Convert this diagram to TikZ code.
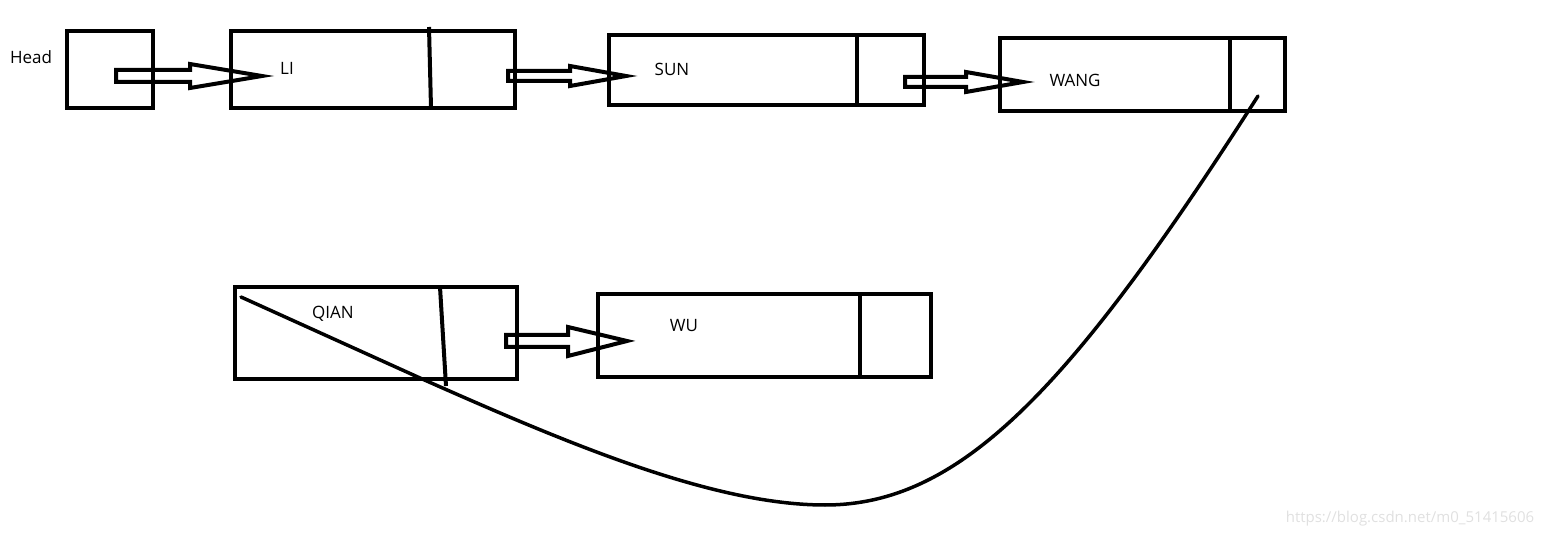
\documentclass[tikz,border=0pt]{standalone}
\usepackage{fontspec}
\setmainfont{Open Sans}
\begin{document}
\begin{tikzpicture}[x=1pt,y=-1pt,
  box/.style={draw,line width=4pt,anchor=north west,inner sep=0pt,outer sep=0pt},
  divider/.style={line width=4pt},
  harrow/.style={line width=4pt,line join=miter},
  lbl/.style={font=\fontsize{17}{20}\selectfont,inner sep=0pt},
  curveline/.style={line width=3.5pt,line cap=round}]
\useasboundingbox (0,0) rectangle (1543,537);
% boxes
\node[box,minimum width=86pt,minimum height=77pt] (head) at (67,31) {};
\node[box,minimum width=284pt,minimum height=77pt] (li) at (231,31) {};
\node[box,minimum width=315pt,minimum height=70pt] (sun) at (609,35) {};
\node[box,minimum width=285pt,minimum height=73pt] (wang) at (1000,38) {};
\node[box,minimum width=282pt,minimum height=92pt] (qian) at (235,287) {};
\node[box,minimum width=333pt,minimum height=83pt] (wu) at (598,294) {};
% dividers
\draw[divider] (429,27) -- (431,108);
\draw[divider] (857,35) -- (857,105);
\draw[divider] (1230,38) -- (1230,111);
\draw[divider] (440,287) -- (446,386);
\draw[divider] (860,294) -- (860,377);
% labels
\node[lbl] (headlbl) at (31,57) {Head};
\node[lbl] (lilbl) at (287,68) {LI};
\node[lbl] (sunlbl) at (672,69) {SUN};
\node[lbl] (wanglbl) at (1075,80) {WANG};
\node[lbl] (qianlbl) at (333,314) {QIAN};
\node[lbl] (wulbl) at (684,326) {WU};
% hollow arrows
\draw[harrow] (116,70) -- (190,70) -- (190,64) -- (262,76) -- (190,88) -- (190,82) -- (116,82) -- cycle;
\draw[harrow] (508,71) -- (570,71) -- (570,66) -- (626,76) -- (570,86) -- (570,81) -- (508,81) -- cycle;
\draw[harrow] (905,77) -- (966,77) -- (966,72) -- (1023,82) -- (966,92) -- (966,87) -- (905,87) -- cycle;
\draw[harrow] (506,335) -- (568,335) -- (568,327) -- (627,341) -- (568,356) -- (568,347) -- (506,347) -- cycle;
% curve
\coordinate (cstart) at (1258,96);
\coordinate (cend) at (241,297);
\draw[curveline] (cstart) .. controls (1070,390) and (960,505) .. (825,505)
  .. controls (710,505) and (560,440) .. (420,378) -- (cend);
% watermark
\node[font=\fontsize{15}{17}\selectfont,text=black!12,inner sep=0pt] (wm) at (1410,519) {https://blog.csdn.net/m0\_51415606};
\end{tikzpicture}
\end{document}
